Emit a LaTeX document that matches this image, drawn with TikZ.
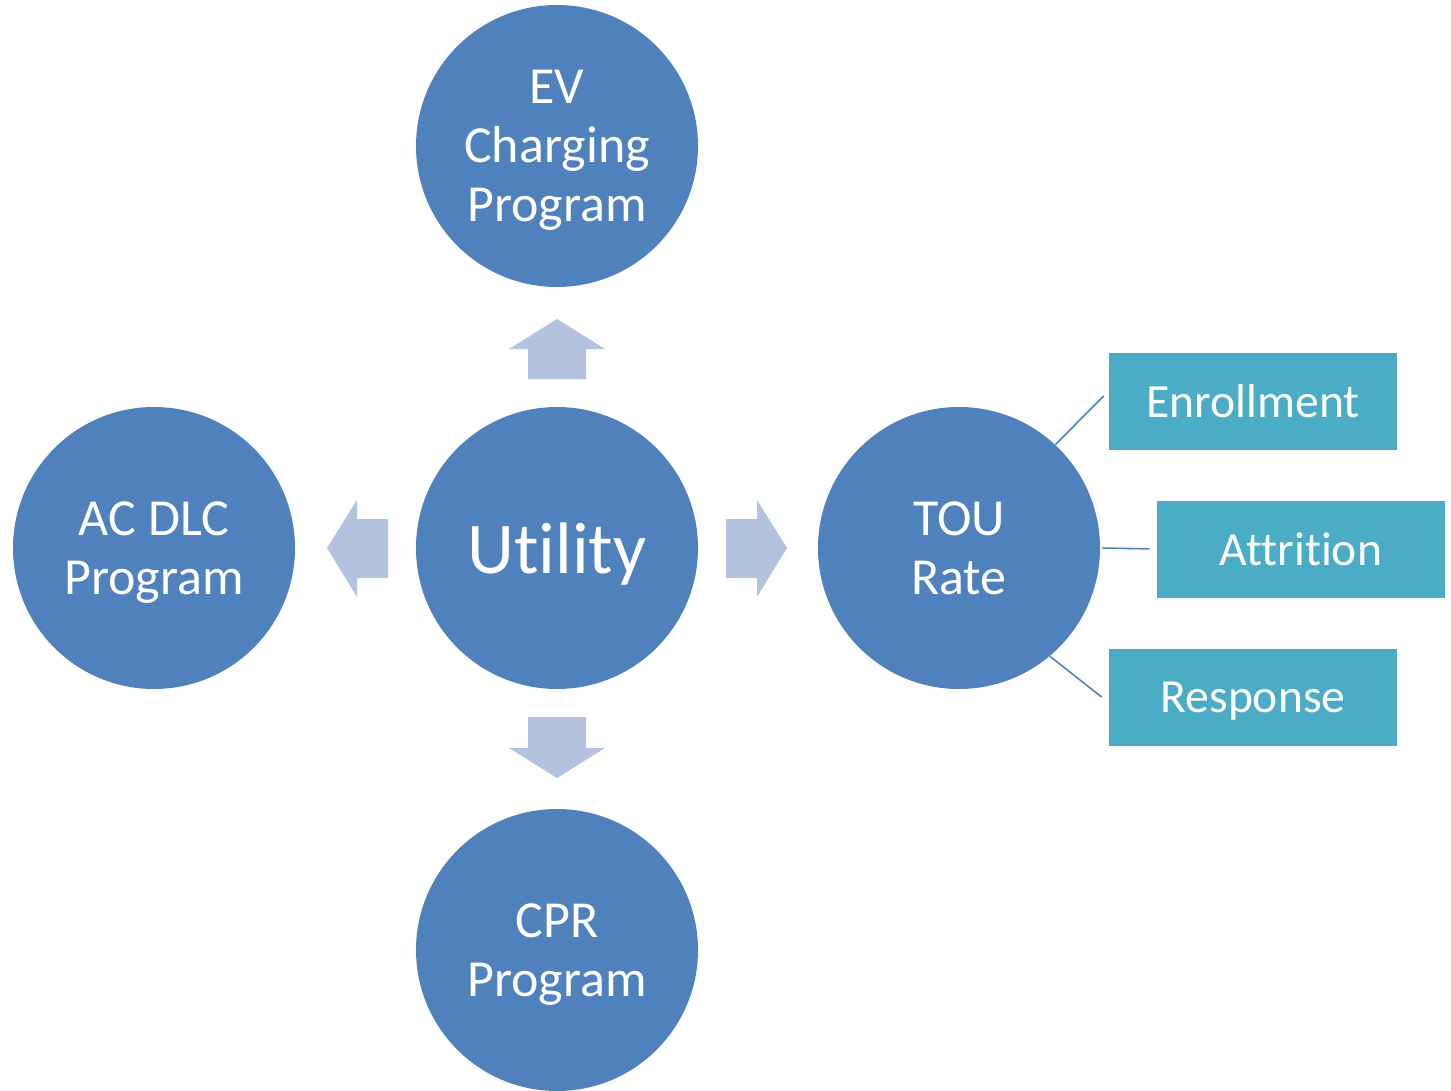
\documentclass[tikz,border=0pt]{standalone}
\usepackage{fontspec}
\setmainfont{Carlito}[Ligatures=NoCommon]
\definecolor{progblue}{RGB}{79,129,189}
\definecolor{boxteal}{RGB}{75,172,198}
\definecolor{arrowpale}{RGB}{179,194,222}
\begin{document}
\begin{tikzpicture}[x=0.5pt,y=-0.5pt,
    prog/.style={circle,fill=progblue,text=white,minimum size=141pt,inner sep=0pt,
      align=center,text depth=0pt,font=\fontsize{26}{29.5}\selectfont},
    item/.style={rectangle,fill=boxteal,text=white,minimum width=144pt,minimum height=48.5pt,
      inner sep=0pt,text depth=0pt,font=\fontsize{23.8}{27}\selectfont},
    link/.style={draw=progblue,line width=0.8pt}]
    \useasboundingbox (0,0) rectangle (1451,1091);
    % the five programs
    \node[prog,font=\fontsize{36.5}{40}\selectfont] (utility) at (557,548) {Utility};
    \node[prog] (ev) at (557,146) {EV\\Charging\\Program};
    \node[prog] (cpr) at (557,950) {CPR\\Program};
    \node[prog] (acdlc) at (154,548) {AC DLC\\Program};
    \node[prog] (tou) at (959,548) {TOU\\Rate};
    % rate details
    \node[item] (enroll) at (1253,401) {Enrollment};
    \node[item] (attr) at (1301,549) {Attrition};
    \node[item] (resp) at (1253,697) {Response};
    \draw[link] (tou.47) -- ([shift={(-5,-5)}]enroll.west);
    \draw[link,shorten <=1pt,shorten >=3.5pt] (tou.east) -- (attr.west);
    \draw[link] (tou.-50) -- ([shift={(-7,0)}]resp.west);
    % block arrows out of the utility
    \fill[arrowpale] (557,319) -- (605,349) -- (586,349) -- (586,379) -- (528,379) -- (528,349) -- (509,349) -- cycle;
    \fill[arrowpale] (557,778) -- (605,748) -- (586,748) -- (586,717) -- (528,717) -- (528,748) -- (509,748) -- cycle;
    \fill[arrowpale] (787,548) -- (757,597) -- (757,578) -- (726,578) -- (726,519) -- (757,519) -- (757,500) -- cycle;
    \fill[arrowpale] (327,548) -- (357,500) -- (357,519) -- (388,519) -- (388,578) -- (357,578) -- (357,597) -- cycle;
\end{tikzpicture}
\end{document}
